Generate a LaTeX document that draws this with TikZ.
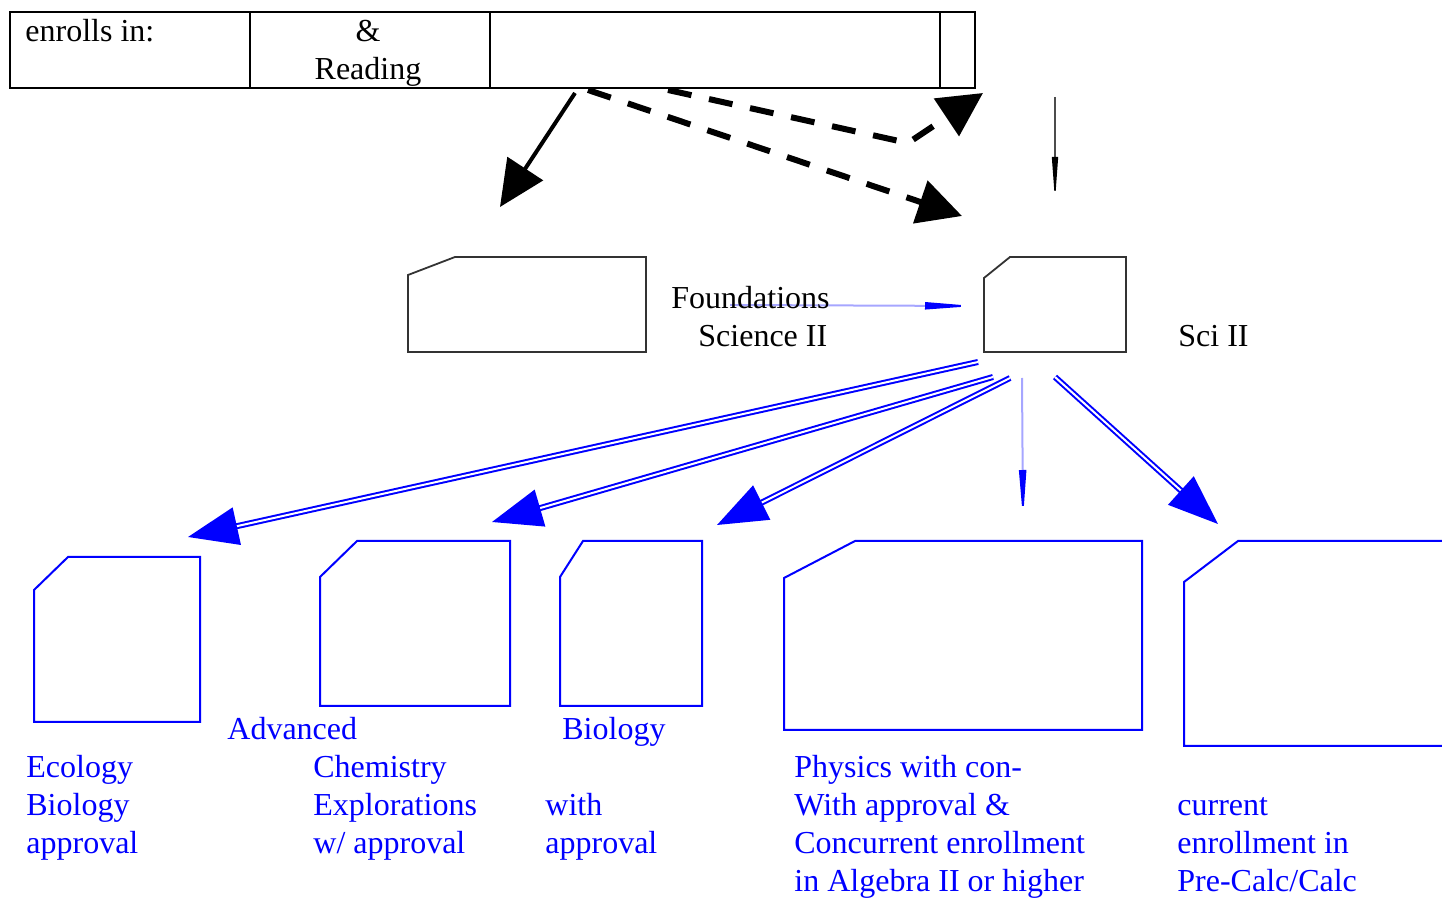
\documentclass[tikz,border=0pt]{standalone}
\usepackage{fontspec}
\setmainfont{Liberation Serif}
\usetikzlibrary{arrows.meta,positioning}

\tikzset{
  cell/.style={rectangle, draw, line width=1.2pt, minimum height=38pt,
    inner sep=0pt, outer sep=0pt},
  box/.style={rectangle, inner sep=0pt, outer sep=0pt},
  lbl/.style={anchor=base west, inner sep=0pt, align=left},
  bluelbl/.style={lbl, text=blue},
  bigarrow/.style={line width=2pt, -{Triangle[length=23pt,width=21pt]}},
  dasharrow/.style={line width=3pt, dash pattern=on 12pt off 9pt,
    -{Triangle[length=22pt,width=22pt]}},
  dblarrow/.style={draw=blue, double=white, line width=1pt,
    double distance=1pt, -{Triangle[length=25pt,width=19pt]}},
  thinarrow/.style={draw=blue!35, line width=1pt,
    -{Triangle[length=25pt,width=3.5pt,color=blue]}},
}

% chamfered outline round a box node: name, x cut, y cut
\newcommand{\chamf}[4][]{%
  \draw[#1] ([yshift=-#4]#2.north west) -- ([xshift=#3]#2.north west)
    -- (#2.north east) -- (#2.south east) -- (#2.south west) -- cycle;}

\begin{document}
\begin{tikzpicture}[x=0.5pt, y=-0.5pt, font=\fontsize{16}{19}\selectfont]
  \useasboundingbox (0,0) rectangle (1442,898);

  % top table
  \node[cell, minimum width=120pt, anchor=west] (enrol) at (10,50) {};
  \node[cell, minimum width=120pt, right=0pt of enrol] (reading) {};
  \node[cell, minimum width=225pt, right=0pt of reading] (wide) {};
  \node[cell, minimum width=17.5pt, right=0pt of wide] (narrow) {};
  \node[lbl] (enroltxt) at (25,42) {enrolls in:};
  \node[lbl, anchor=base, align=center] (readtxt) at (368,80) {\&\\Reading};

  % middle boxes
  \node[box, minimum width=119pt, minimum height=47.5pt] (found) at (527,304.5) {};
  \node[box, minimum width=71pt, minimum height=47.5pt] (sci) at (1055,304.5) {};
  \chamf[black!80, line width=0.9pt]{found}{23.5pt}{9pt}
  \chamf[black!80, line width=0.9pt]{sci}{13pt}{10.5pt}

  % bottom boxes
  \node[box, minimum width=83pt, minimum height=82.5pt] (eco) at (117,639.5) {};
  \node[box, minimum width=95pt, minimum height=82.5pt] (chem) at (415,623.5) {};
  \node[box, minimum width=71pt, minimum height=82.5pt] (bio) at (631,623.5) {};
  \node[box, minimum width=179pt, minimum height=94.5pt] (phys) at (963,635.5) {};
  \node[box, minimum width=138pt, minimum height=102.5pt] (calc) at (1322,643.5) {};
  \chamf[blue, line width=1pt]{eco}{17pt}{16.5pt}
  \chamf[blue, line width=1pt]{chem}{18.5pt}{18pt}
  \chamf[blue, line width=1pt]{bio}{11.5pt}{18pt}
  \chamf[blue, line width=1pt]{phys}{35.5pt}{18.5pt}
  \chamf[blue, line width=1pt]{calc}{27pt}{20.5pt}

  % free ends of the connectors
  \coordinate (s1) at (575,93);   \coordinate (e1) at (500,207);
  \coordinate (s2) at (588,90);   \coordinate (e2) at (962,216);
  \coordinate (s3) at (668,90);   \coordinate (k3) at (908,143);
  \coordinate (e3) at (983,93);
  \coordinate (s4) at (1055,97);  \coordinate (e4) at (1055,201);
  \coordinate (s5) at (730,305);  \coordinate (e5) at (975,306);
  \coordinate (b1) at (978,362);  \coordinate (t1) at (188,537);
  \coordinate (b2) at (993,377);  \coordinate (t2) at (492,522);
  \coordinate (b3) at (1010,378); \coordinate (t3) at (717,525);
  \coordinate (b4) at (1022,378); \coordinate (t4) at (1023,520);
  \coordinate (b5) at (1055,377); \coordinate (t5) at (1218,524);

  \draw[bigarrow] (s1) -- (e1);
  \draw[dasharrow] (s2) -- (e2);
  \draw[dasharrow] (s3) -- (k3) -- (e3);
  \draw[black!70, line width=0.7pt, -{Triangle[length=22pt,width=3pt,color=black]}] (s4) -- (e4);
  \draw[thinarrow] (s5) -- (e5);
  \draw[dblarrow] (b1) -- (t1);
  \draw[dblarrow] (b2) -- (t2);
  \draw[dblarrow] (b3) -- (t3);
  \draw[thinarrow] (b4) -- (t4);
  \draw[dblarrow] (b5) -- (t5);

  % labels (base = last line)
  \node[lbl] (foundtxt) at (671,347) {Foundations\\\hspace{13.5pt}Science II};
  \node[lbl] (scitxt) at (1178,347) {Sci II};
  \node[bluelbl] (advtxt) at (227,740) {Advanced};
  \node[bluelbl] (biotxt) at (562,740) {Biology};
  \node[bluelbl] (ecotxt) at (26,853) {Ecology\\Biology\\approval};
  \node[bluelbl] (chemtxt) at (313,853) {Chemistry\\Explorations\\w/ approval};
  \node[bluelbl] (withtxt) at (545,853) {with\\approval};
  \node[bluelbl] (phystxt) at (794,891) {Physics with con-\\With approval \&\\Concurrent enrollment\\in Algebra II or higher};
  \node[bluelbl] (calctxt) at (1177,891) {current\\enrollment in\\Pre-Calc/Calc};
\end{tikzpicture}
\end{document}
